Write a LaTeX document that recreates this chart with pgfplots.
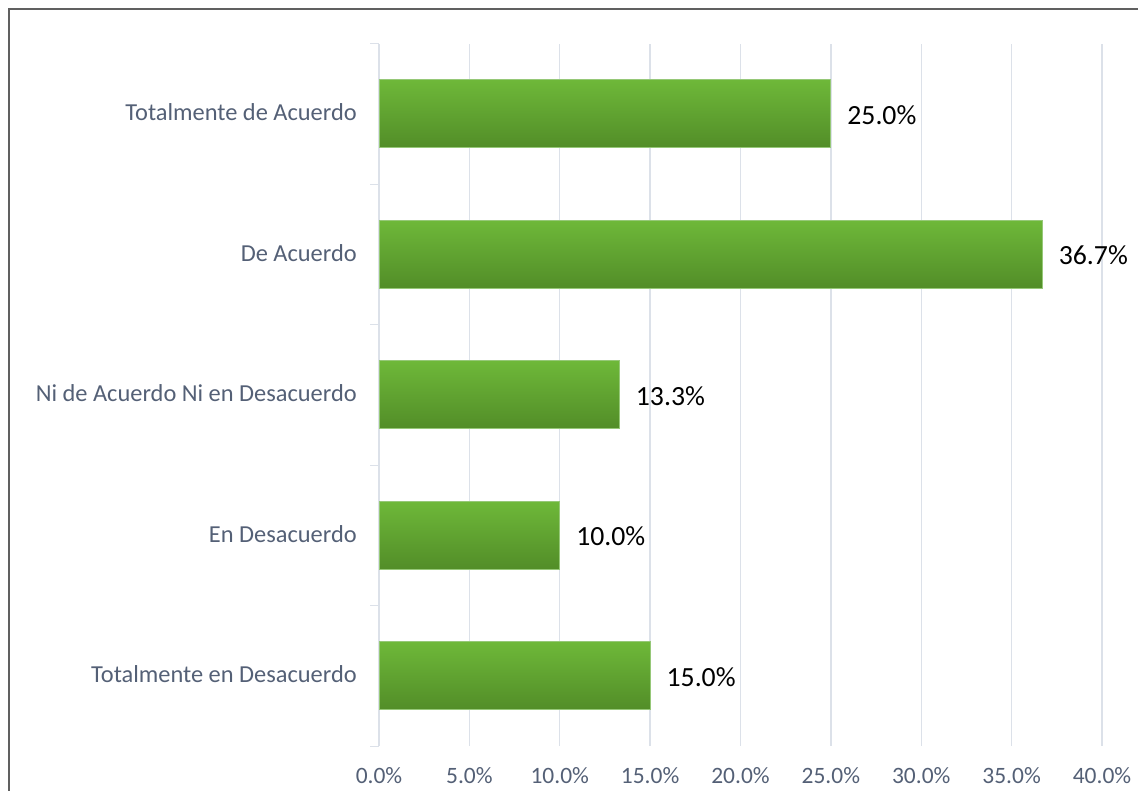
\documentclass[border=0pt]{standalone}
\usepackage{fontspec}
\setmainfont{Carlito}
\usepackage{pgfplots}
\pgfplotsset{compat=1.18}
\definecolor{gridcol}{RGB}{220,225,233}
\definecolor{labcol}{RGB}{84,96,118}
\definecolor{bartop}{RGB}{110,184,57}
\definecolor{barbot}{RGB}{82,141,40}
\definecolor{baredge}{RGB}{150,200,120}
\definecolor{framecol}{RGB}{96,96,96}
\pgfplotsset{greenbar/.style={xbar, bar width=51pt, bar shift=0pt, draw=baredge, line width=0.75pt, top color=bartop, bottom color=barbot, point meta=x}}
\begin{document}
\begin{tikzpicture}
\useasboundingbox (0,0) rectangle (853.5pt,593.25pt);
\begin{axis}[
  at={(284.25pt,33.5625pt)}, anchor=south west,
  scale only axis, width=542.25pt, height=526.875pt,
  xmin=0, xmax=40, ymin=-0.5, ymax=4.5,
  /pgf/number format/assume math mode=true,
  axis line style={draw=none},
  tick pos=left, tick align=outside,
  major tick length=0pt,
  xtick={0,5,...,40},
  xticklabel={\pgfmathprintnumber[fixed,fixed zerofill,precision=1,assume math mode=true]{\tick}\%},
  xticklabel style={anchor=base, inner sep=0pt, yshift=-27.6pt, font=\fontsize{17.6}{20}\selectfont, text=labcol},
  xmajorgrids=true,
  grid style={draw=gridcol, line width=1pt},
  ytick={0,1,2,3,4},
  yticklabels={Totalmente en Desacuerdo, En Desacuerdo, Ni de Acuerdo Ni en Desacuerdo, De Acuerdo, Totalmente de Acuerdo},
  yticklabel style={anchor=base east, inner sep=0pt, xshift=-16.5pt, yshift=-5pt, font=\fontsize{18.3}{20}\selectfont, text=labcol},
  minor ytick={-0.5,0.5,1.5,2.5,3.5,4.5},
  minor tick length=6.75pt,
  minor tick style={draw=gridcol, line width=1pt},
  yminorgrids=false,
  nodes near coords={\pgfmathprintnumber[fixed,fixed zerofill,precision=1,assume math mode=true]{\pgfplotspointmeta}\%},
  every node near coord/.append style={anchor=west, inner sep=0pt, xshift=12pt, yshift=-0.5pt, font=\fontsize{20.8}{24}\selectfont, text=black},
]
\addplot[greenbar] coordinates {(15.0,0)};
\addplot[greenbar] coordinates {(10.0,1)};
\addplot[greenbar] coordinates {(13.3,2)};
\addplot[greenbar] coordinates {(36.7,3)};
\addplot[greenbar] coordinates {(25.0,4)};
\end{axis}
\draw[framecol, line width=1.5pt] (6.75pt,-10pt) -- (6.75pt,586.5pt) -- (870pt,586.5pt);
\end{tikzpicture}
\end{document}
